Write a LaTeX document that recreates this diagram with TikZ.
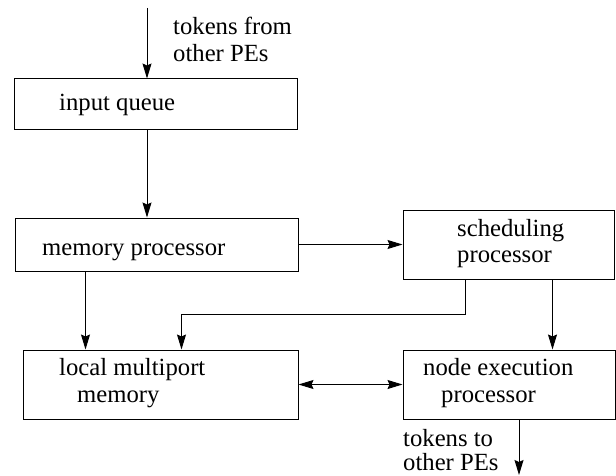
\documentclass[tikz,border=0pt]{standalone}
\usepackage{fontspec}
\setmainfont{Liberation Serif}
\usetikzlibrary{arrows.meta,calc}
\tikzset{
  blk/.style={draw, rectangle, line width=1pt, inner sep=0pt},
  lbl/.style={anchor=base west, inner sep=0pt, font=\fontsize{24.7}{27}\selectfont},
  arr/.style={line width=1pt, -{Stealth[length=15pt,width=9pt,inset=2pt]}},
  darr/.style={line width=1pt, {Stealth[length=15pt,width=9pt,inset=2pt]}-{Stealth[length=15pt,width=9pt,inset=2pt]}}
}
\begin{document}
\begin{tikzpicture}[x=1pt,y=-1pt]
\useasboundingbox (0,0) rectangle (616,476);
% boxes
\node[blk, minimum width=283pt, minimum height=51pt] (inq) at (155.5,104.5) {};
\node[blk, minimum width=283pt, minimum height=53pt] (mem) at (156.5,244.5) {};
\node[blk, minimum width=211pt, minimum height=69pt] (sched) at (508.5,244.5) {};
\node[blk, minimum width=275pt, minimum height=69pt] (local) at (160.5,384.5) {};
\node[blk, minimum width=212pt, minimum height=69pt] (nexec) at (509,384.5) {};
% labels
\node[lbl] (t1a) at (173,35) {tokens from};
\node[lbl] (t1b) at (173,62) {other PEs};
\node[lbl] (inqt) at (59,111) {input queue};
\node[lbl] (memt) at (42,255) {memory processor};
\node[lbl] (scha) at (457,236) {scheduling};
\node[lbl] (schb) at (457,262) {processor};
\node[lbl] (loca) at (59,375) {local multiport};
\node[lbl] (locb) at (77,402) {memory};
\node[lbl] (nexa) at (423,375) {node execution};
\node[lbl] (nexb) at (441,402) {processor};
\node[lbl] (t2a) at (403,446) {tokens to};
\node[lbl] (t2b) at (403,470) {other PEs};
% connectors
\coordinate (src) at (147,8);
\coordinate (out) at (519,475);
\draw[arr] (src) -- (src |- inq.north);
\draw[arr] (src |- inq.south) -- (src |- mem.north);
\draw[arr] (mem.east) -- (sched.west);
\draw[arr] ([xshift=71pt]mem.south west) -- ([xshift=71pt]mem.south west |- local.north);
\draw[arr] ([xshift=63pt]sched.south west) -- ++(0,35) -| ([xshift=159pt]local.north west);
\draw[arr] ([xshift=150pt]sched.south west) -- ([xshift=150pt]sched.south west |- nexec.north);
\draw[darr] (local.east) -- (nexec.west);
\draw[arr] (out |- nexec.south) -- (out);
\end{tikzpicture}
\end{document}
